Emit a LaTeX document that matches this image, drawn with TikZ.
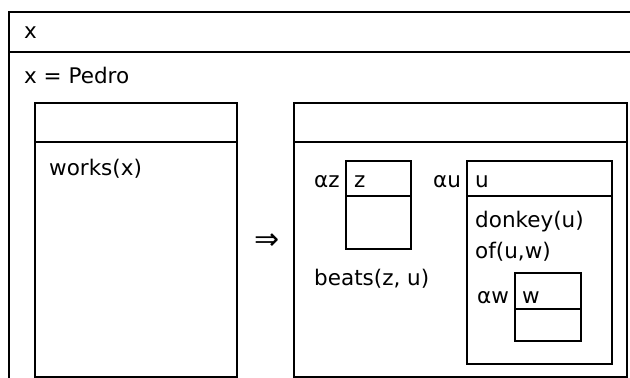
\documentclass[tikz,border=0pt]{standalone}
\usepackage{fontspec}
\setmainfont{DejaVu Sans}
\begin{document}
\begin{tikzpicture}[x=1pt,y=-1pt,
  box/.style={draw=black,line width=2pt},
  txt/.style={anchor=base west,inner sep=0pt,font=\fontsize{21.5}{26}\selectfont}]
\useasboundingbox (0,0) rectangle (630,378);
\clip (0,0) rectangle (630,378);
% outer DRS
\draw[box] (9,12) rectangle (650,400);
\draw[box] (9,52) -- (650,52);
\node[txt] (tx) at (24,38) {x};
\node[txt] (tpedro) at (24,83) {x = Pedro};
% left box
\draw[box] (35,103) rectangle (237,377);
\draw[box] (35,142) -- (237,142);
\node[txt] (tworks) at (49,175) {works(x)};
% implication
\node[inner sep=0pt,font=\fontsize{30}{36}\selectfont] (imp) at (267,242) {⇒};
% right box
\draw[box] (294,103) rectangle (627,377);
\draw[box] (294,142) -- (627,142);
% z box
\draw[box] (346,161) rectangle (411,249);
\draw[box] (346,196) -- (411,196);
\node[txt] (taz) at (314,187) {αz};
\node[txt] (tz) at (354,187) {z};
% u box
\draw[box] (467,161) rectangle (612,364);
\draw[box] (467,196) -- (612,196);
\node[txt] (tau) at (433,187) {αu};
\node[txt] (tu) at (475,187) {u};
\node[txt] (tdonkey) at (475,227) {donkey(u)};
\node[txt] (tof) at (475,258) {of(u,w)};
\node[txt] (tbeats) at (314,285) {beats(z, u)};
% w box
\draw[box] (515,273) rectangle (581,341);
\draw[box] (515,309) -- (581,309);
\node[txt] (taw) at (477,303) {αw};
\node[txt] (tw) at (522,303) {w};
\end{tikzpicture}
\end{document}
